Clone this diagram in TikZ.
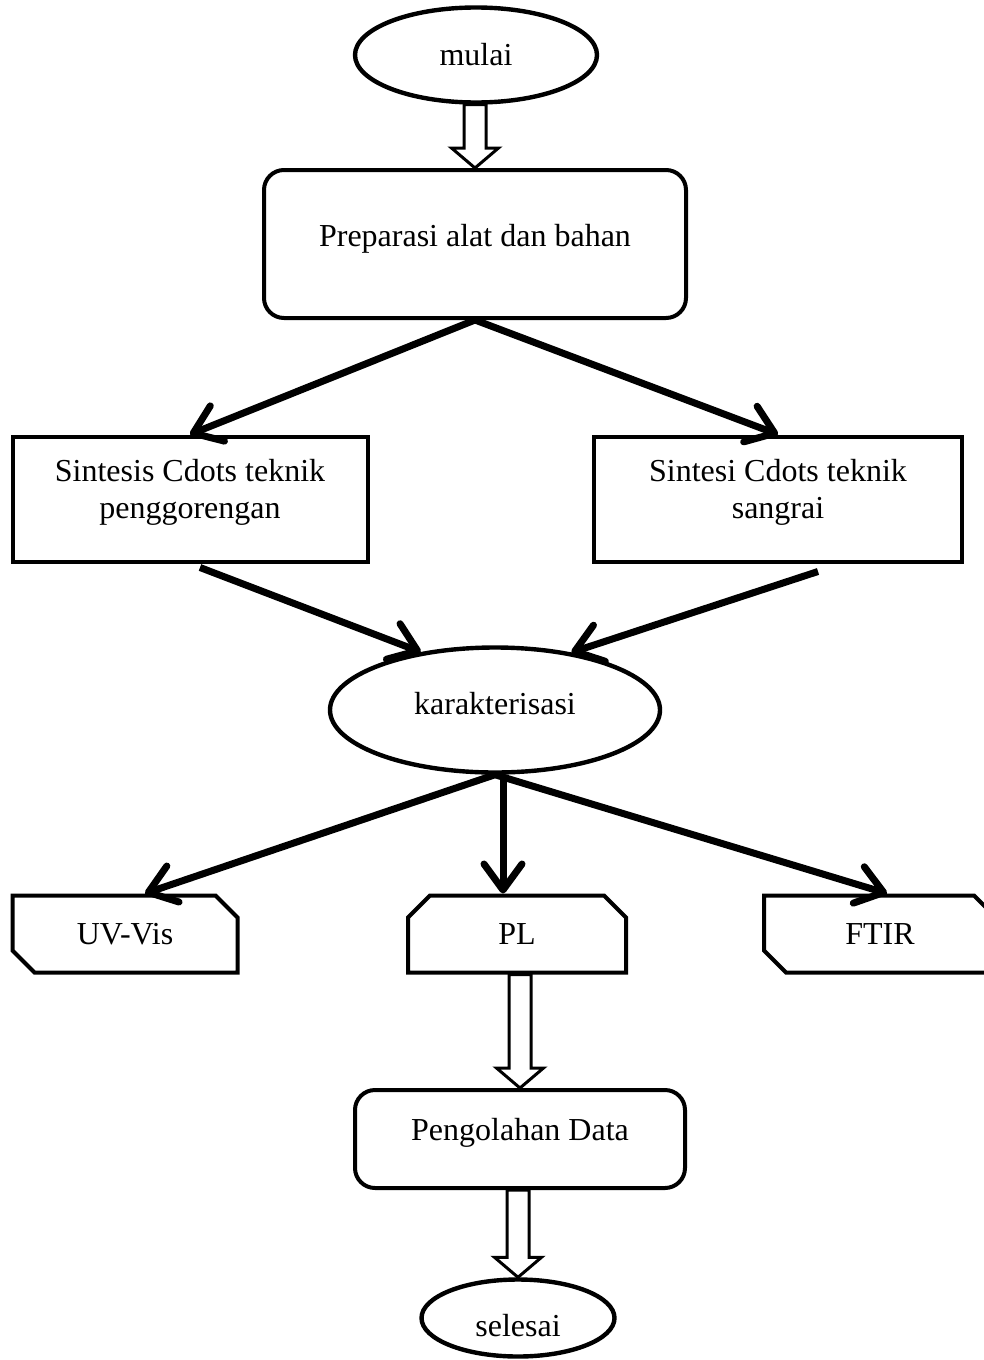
\documentclass[tikz,border=0pt]{standalone}
\usepackage{fontspec}
\setmainfont{Liberation Serif}
\usepackage{tikz}
\usetikzlibrary{arrows.meta,calc,shapes.geometric,shapes.misc}

\begin{document}
\begin{tikzpicture}[x=0.5pt,y=-0.5pt,font=\fontsize{16}{18.5}\selectfont]
   \tikzstyle{terminal}=[draw,ellipse,line width=2.2pt,inner sep=0pt]
   \tikzstyle{proses}=[draw,rectangle,rounded corners=10pt,line width=2pt]
   \tikzstyle{sintesis}=[draw,rectangle,line width=2pt,align=center,text depth=10pt,
                         minimum width=177.5pt,minimum height=62.5pt]
   \tikzstyle{uji}=[draw,chamfered rectangle,chamfered rectangle sep=5.5pt,
                    line width=2pt,minimum height=38.5pt]
   \tikzstyle{panah}=[line width=3.5pt,-{Straight Barb[length=13pt,width=19pt,round]}]
   \tikzstyle{blok}=[draw,fill=white,line width=1.5pt,line join=miter]

   \clip (0,0) rectangle (984,1360);

   \node[terminal,minimum width=121pt,minimum height=47.5pt] (mulai) at (476,55) {mulai};
   \node[proses,minimum width=211pt,minimum height=74pt,text depth=8.5pt] (prep) at (475,244) {Preparasi alat dan bahan};
   \node[sintesis] (goreng) at (190,499) {Sintesis Cdots teknik\\penggorengan};
   \node[sintesis,minimum width=184pt] (sangrai) at (778,499) {Sintesi Cdots teknik\\sangrai};
   \node[terminal,minimum width=165pt,minimum height=62.5pt,text depth=7pt] (karak) at (495,710) {karakterisasi};
   \node[uji,minimum width=112.5pt,chamfered rectangle corners={north east,south west}] (uv) at (125,934) {UV-Vis};
   \node[uji,minimum width=109pt,chamfered rectangle corners={north west,north east}] (pl) at (517,934) {PL};
   \node[uji,minimum width=116pt,chamfered rectangle corners={north east,south west}] (ftir) at (880,934) {FTIR};
   \node[proses,minimum width=165pt,minimum height=49pt,text depth=9.5pt] (olah) at (520,1139) {Pengolahan Data};
   \node[terminal,minimum width=96.5pt,minimum height=38.5pt,text height=19pt] (selesai) at (518,1318) {selesai};

   \path[panah] (prep.south) edge (goreng.north)
                             edge (sangrai.north)
         ([xshift=5pt,yshift=-2pt]goreng.south) edge (karak.142)
         ([xshift=20pt,yshift=-4pt]sangrai.south) edge (karak.37)
         (karak.south) edge ([xshift=10pt]uv.north)
                       edge ([xshift=3.5pt]ftir.north)
         ([xshift=4pt]karak.south) edge ([xshift=-7pt]pl.north);

   \foreach \a/\b in {mulai/prep,pl/olah,olah/selesai}
      \draw[blok] let \p1=(\a.south), \p2=(\b.north) in
         (\x2-5.5pt,\y1) -- (\x2-5.5pt,\y2+10pt) -- (\x2-11.75pt,\y2+10pt) -- (\x2,\y2)
         -- (\x2+11.75pt,\y2+10pt) -- (\x2+5.5pt,\y2+10pt) -- (\x2+5.5pt,\y1) -- cycle;
\end{tikzpicture}
\end{document}
